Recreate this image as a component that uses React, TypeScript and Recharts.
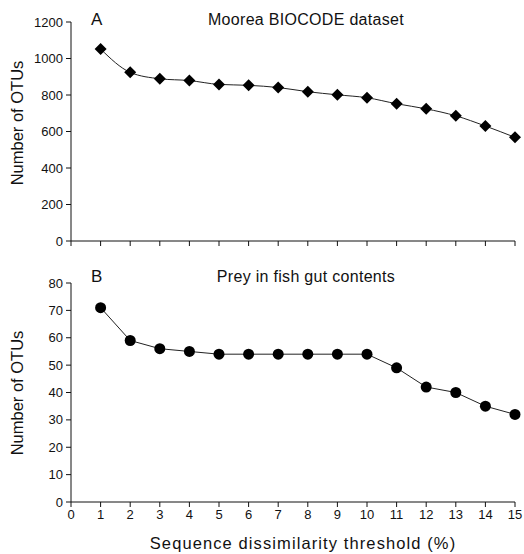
import React from 'react';
import { LineChart, Line, XAxis, YAxis } from 'recharts';

const thresholds = [1, 2, 3, 4, 5, 6, 7, 8, 9, 10, 11, 12, 13, 14, 15];
const mooreaOTUs = [1052, 924, 889, 879, 858, 853, 841, 818, 801, 785, 752, 724, 686, 630, 568];
const preyOTUs = [71, 59, 56, 55, 54, 54, 54, 54, 54, 54, 49, 42, 40, 35, 32];
const xTicks = [0, 1, 2, 3, 4, 5, 6, 7, 8, 9, 10, 11, 12, 13, 14, 15];
const yTicksA = [0, 200, 400, 600, 800, 1000, 1200];
const yTicksB = [0, 10, 20, 30, 40, 50, 60, 70, 80];

const dataA = thresholds.map((x, i) => ({ x, y: mooreaOTUs[i] }));
const dataB = thresholds.map((x, i) => ({ x, y: preyOTUs[i] }));

const FONT = '"Liberation Sans", Arial, sans-serif';
const INK = '#111';

const Diamond = (props: any) => {
  const { cx, cy, index } = props;
  if (cx == null || cy == null) return <g key={`d${index}`} />;
  const r = 6;
  return (
    <polygon
      key={`d${index}`}
      points={`${cx},${cy - r} ${cx + r},${cy} ${cx},${cy + r} ${cx - r},${cy}`}
      fill="#000"
    />
  );
};

const Circle = (props: any) => {
  const { cx, cy, index } = props;
  if (cx == null || cy == null) return <g key={`c${index}`} />;
  return <circle key={`c${index}`} cx={cx} cy={cy} r={5.5} fill="#000" />;
};

const tickStyle = { fontSize: 13, fill: INK, fontFamily: FONT };

export default function App() {
  return (
    <div style={{ position: 'fixed', left: 0, top: 0, width: 524, height: 554, background: '#fff', fontFamily: FONT }}>
      <div style={{ position: 'absolute', left: 0, top: 0 }}>
        <LineChart width={524} height={268} data={dataA} margin={{ top: 22, right: 9, bottom: 17, left: 0 }}>
          <XAxis
            dataKey="x"
            type="number"
            domain={[0, 15]}
            ticks={xTicks}
            interval={0}
            tickFormatter={() => ''}
            height={10}
            tickSize={5}
            axisLine={{ stroke: INK }}
            tickLine={{ stroke: INK }}
          />
          <YAxis
            type="number"
            domain={[0, 1200]}
            ticks={yTicksA}
            interval={0}
            width={71}
            tickSize={5}
            tickMargin={3}
            tick={tickStyle}
            axisLine={{ stroke: INK }}
            tickLine={{ stroke: INK }}
          />
          <Line
            dataKey="y"
            type="monotone"
            stroke="#222"
            strokeWidth={1}
            dot={Diamond}
            isAnimationActive={false}
          />
        </LineChart>
      </div>
      <div style={{ position: 'absolute', left: 0, top: 268 }}>
        <LineChart width={524} height={286} data={dataB} margin={{ top: 15, right: 9, bottom: 0, left: 0 }}>
          <XAxis
            dataKey="x"
            type="number"
            domain={[0, 15]}
            ticks={xTicks}
            interval={0}
            height={52}
            tickSize={5}
            tickMargin={3}
            tick={tickStyle}
            axisLine={{ stroke: INK }}
            tickLine={{ stroke: INK }}
          />
          <YAxis
            type="number"
            domain={[0, 80]}
            ticks={yTicksB}
            interval={0}
            width={71}
            tickSize={5}
            tickMargin={3}
            tick={tickStyle}
            axisLine={{ stroke: INK }}
            tickLine={{ stroke: INK }}
          />
          <Line
            dataKey="y"
            type="linear"
            stroke="#222"
            strokeWidth={1}
            dot={Circle}
            isAnimationActive={false}
          />
        </LineChart>
      </div>
      <svg width={524} height={554} style={{ position: 'absolute', left: 0, top: 0, pointerEvents: 'none' }}>
        <g fontFamily={FONT} fill={INK}>
          <text x={91} y={25} fontSize={17}>A</text>
          <text x={306} y={25} fontSize={16} textAnchor="middle" letterSpacing={0.3}>Moorea BIOCODE dataset</text>
          <text x={91} y={282} fontSize={17}>B</text>
          <text x={306} y={282} fontSize={16} textAnchor="middle" letterSpacing={0.3}>Prey in fish gut contents</text>
          <text x={23} y={123} fontSize={16.5} textAnchor="middle" transform="rotate(-90 23 123)">Number of OTUs</text>
          <text x={23} y={393} fontSize={16.5} textAnchor="middle" transform="rotate(-90 23 393)">Number of OTUs</text>
          <text x={303} y={549} fontSize={16.5} textAnchor="middle" letterSpacing={1.1}>Sequence dissimilarity threshold (%)</text>
        </g>
      </svg>
    </div>
  );
}
